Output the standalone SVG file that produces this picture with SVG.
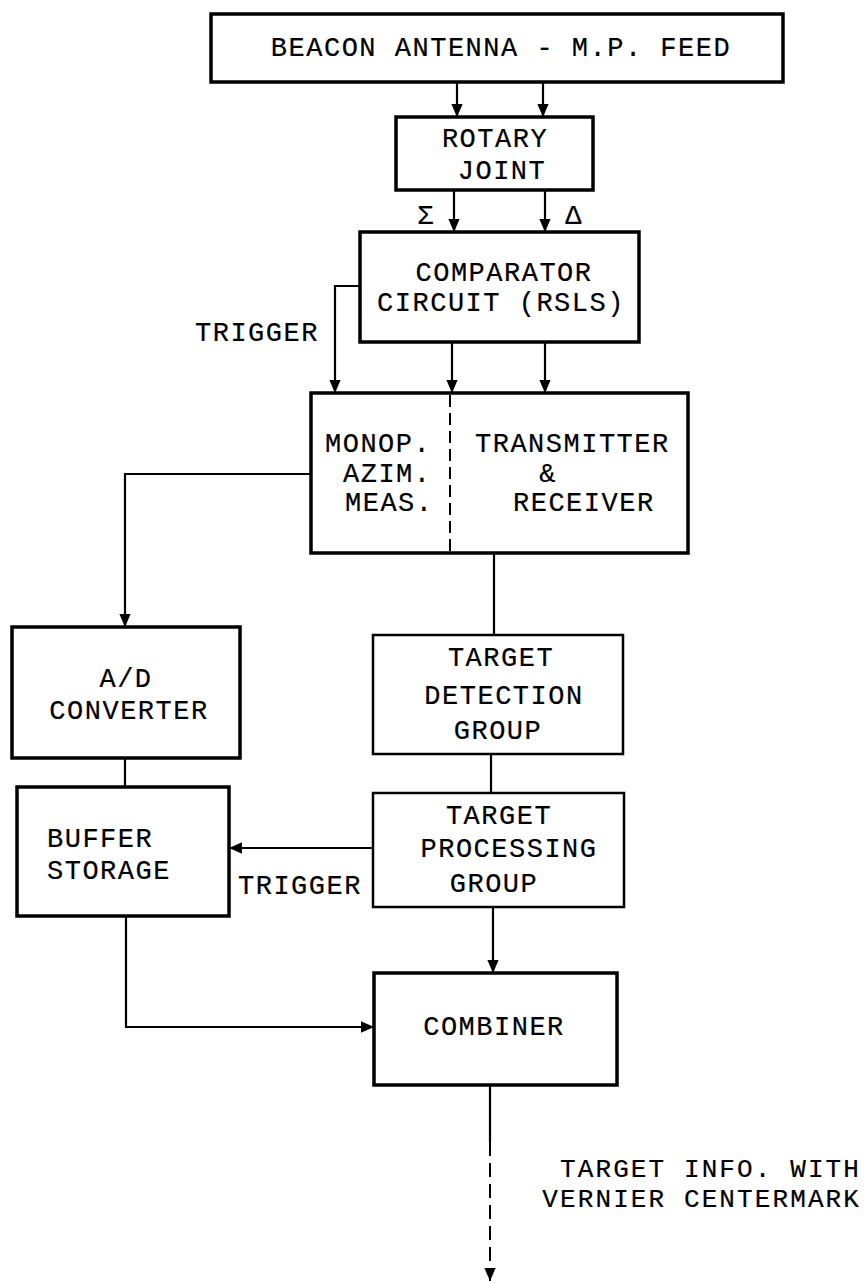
<svg xmlns="http://www.w3.org/2000/svg" width="868" height="1283" viewBox="0 0 868 1283">
<style>
.box{fill:#fff;stroke:#000;stroke-width:3.5}
.thin{fill:#fff;stroke:#000;stroke-width:2.5}
.ln{fill:none;stroke:#000;stroke-width:2.2}
.dash{fill:none;stroke:#000;stroke-width:2;stroke-dasharray:14 7}
text{font-family:"Liberation Mono","Courier New",monospace;font-size:27px;letter-spacing:1.5px;fill:#000;stroke:#000;stroke-width:0.2}
.m{text-anchor:middle}
.e{text-anchor:end}
.sm{font-size:26px;letter-spacing:2.1px}
</style>
<defs>
<marker id="ah" markerUnits="userSpaceOnUse" markerWidth="13" markerHeight="15" refX="15" refY="6.5" viewBox="0 0 15 13" orient="auto">
<path d="M0,0 L15,6.5 L0,13 z" fill="#000"/>
</marker>
</defs>
<rect width="868" height="1283" fill="#fff"/>
<g id="connectors">
<line class="ln" x1="457" y1="82" x2="457" y2="117" marker-end="url(#ah)"/>
<line class="ln" x1="543" y1="82" x2="543" y2="117" marker-end="url(#ah)"/>
<line class="ln" x1="454" y1="190" x2="454" y2="232" marker-end="url(#ah)"/>
<line class="ln" x1="545" y1="190" x2="545" y2="232" marker-end="url(#ah)"/>
<path class="ln" d="M360,286 H335 V393" marker-end="url(#ah)"/>
<line class="ln" x1="452" y1="342" x2="452" y2="393" marker-end="url(#ah)"/>
<line class="ln" x1="545" y1="342" x2="545" y2="393" marker-end="url(#ah)"/>
<path class="ln" d="M311,474 H125 V627" marker-end="url(#ah)"/>
<line class="ln" x1="125" y1="758" x2="125" y2="787"/>
<line class="ln" x1="494" y1="553" x2="494" y2="635"/>
<line class="ln" x1="491" y1="754" x2="491" y2="793"/>
<line class="ln" x1="373" y1="848" x2="229" y2="848" marker-end="url(#ah)"/>
<line class="ln" x1="493" y1="907" x2="493" y2="973" marker-end="url(#ah)"/>
<path class="ln" d="M126,916 V1027 H374" marker-end="url(#ah)"/>
<line class="ln" x1="490" y1="1085" x2="490" y2="1142"/>
<line class="dash" x1="490" y1="1142" x2="490" y2="1281" marker-end="url(#ah)"/>
</g>
<g id="beacon">
<rect class="box" x="211" y="14" width="572" height="68"/>
<text class="m" x="501" y="56">BEACON ANTENNA - M.P. FEED</text>
</g>
<g id="rotary">
<rect class="box" x="396" y="117" width="197" height="73"/>
<text class="m" x="495" y="147">ROTARY</text>
<text class="m" x="502" y="179">JOINT</text>
</g>
<g id="labels-sd">
<text class="m" x="426" y="224">Σ</text>
<text class="m" x="574" y="224">Δ</text>
</g>
<g id="comparator">
<rect class="box" x="360" y="232" width="279" height="110"/>
<text class="m" x="504" y="281">COMPARATOR</text>
<text class="m" x="501" y="311">CIRCUIT (RSLS)</text>
</g>
<g id="trigger1">
<text x="195" y="341">TRIGGER</text>
</g>
<g id="monop-txrx">
<rect class="box" x="311" y="393" width="377" height="160"/>
<line class="dash" x1="450" y1="395" x2="450" y2="551" style="stroke-dasharray:12 6"/>
<text x="325" y="452">MONOP.</text>
<text x="343" y="482">AZIM.</text>
<text x="345" y="511">MEAS.</text>
<text x="475" y="452">TRANSMITTER</text>
<text class="m" x="548" y="482">&amp;</text>
<text x="513" y="511">RECEIVER</text>
</g>
<g id="ad">
<rect class="box" x="12" y="627" width="228" height="131"/>
<text class="m" x="126" y="687">A/D</text>
<text class="m" x="129" y="719">CONVERTER</text>
</g>
<g id="buffer">
<rect class="box" x="17" y="787" width="212" height="129"/>
<text x="47" y="847">BUFFER</text>
<text x="47" y="879">STORAGE</text>
</g>
<g id="detection">
<rect class="thin" x="373" y="635" width="250" height="119"/>
<text class="m" x="501" y="666">TARGET</text>
<text class="m" x="504" y="704">DETECTION</text>
<text class="m" x="498" y="739">GROUP</text>
</g>
<g id="processing">
<rect class="thin" x="373" y="793" width="251" height="114"/>
<text class="m" x="499" y="824">TARGET</text>
<text class="m" x="509" y="857">PROCESSING</text>
<text class="m" x="494" y="892">GROUP</text>
</g>
<g id="trigger2">
<text x="238" y="894">TRIGGER</text>
</g>
<g id="combiner">
<rect class="box" x="374" y="973" width="243" height="112"/>
<text class="m" x="494" y="1035">COMBINER</text>
</g>
<g id="output-label">
<text class="e sm" x="861" y="1177">TARGET INFO. WITH</text>
<text class="e sm" x="861" y="1207">VERNIER CENTERMARK</text>
</g>
</svg>
